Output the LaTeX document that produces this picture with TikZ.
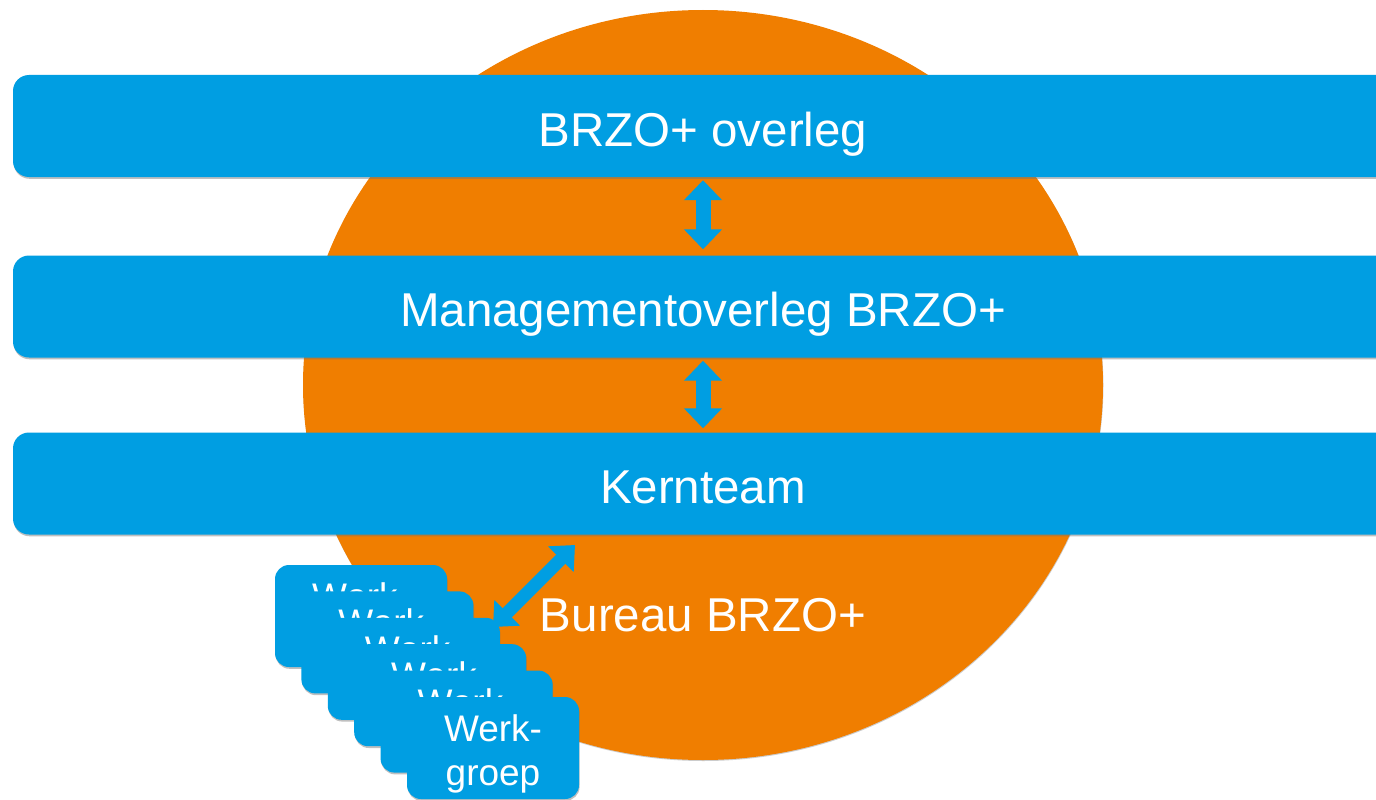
\documentclass[tikz,border=0pt]{standalone}
\usepackage{fontspec}
\setmainfont{Liberation Sans}
\usetikzlibrary{arrows.meta,shadows,shapes.geometric}
\definecolor{barblue}{RGB}{0,158,226}
\definecolor{circorange}{RGB}{240,126,0}
\begin{document}
\begin{tikzpicture}[x=1pt,y=-1pt,
  softshadow/.style={drop shadow={shadow xshift=0.6pt, shadow yshift=-1.8pt, opacity=0.45, fill=black!55}},
  bar/.style={fill=barblue, rounded corners=16pt, minimum width=1380pt, minimum height=102pt,
    inner sep=0pt, text=white, font=\fontsize{47.5}{57}\selectfont,
    text height=40pt, text depth=0pt, softshadow},
  werk/.style={fill=barblue, rounded corners=14pt, minimum width=172pt, minimum height=102pt,
    inner sep=0pt, softshadow},
  werktext/.style={inner sep=0pt, text=white, align=center, font=\fontsize{37}{44}\selectfont},
  dblv/.style={draw=barblue, line width=15pt,
    {Triangle[width=37pt,length=20pt]}-{Triangle[width=37pt,length=20pt]}},
  dbld/.style={draw=barblue, line width=13pt,
    {Triangle[width=35pt,length=20pt]}-{Triangle[width=35pt,length=20pt]}},
  plain/.style={text=white, font=\fontsize{47.5}{57}\selectfont, inner sep=0pt}
]
\useasboundingbox (0,0) rectangle (1376,800);
\clip (0,0) rectangle (1376,800);
\fill[white] (0,0) rectangle (1376,800);

% orange ellipse
\node[ellipse, fill=circorange, minimum width=800pt, minimum height=750pt, inner sep=0pt,
  drop shadow={shadow xshift=0.4pt, shadow yshift=-1pt, opacity=0.4, fill=black!50}] (circ) at (703,385) {};

% bars
\node[bar] (b1) at (703,126) {BRZO+ overleg};
\node[bar] (b2) at (703,306.5) {Managementoverleg BRZO+};
\node[bar] (b3) at (703,483.5) {Kernteam};

% vertical arrows
\draw[dblv, shorten <=3pt, shorten >=6pt] (b1.south) -- (b2.north);
\draw[dblv, shorten <=3pt, shorten >=4pt] (b2.south) -- (b3.north);

% Bureau label
\node[plain, anchor=base] (bureau) at (703,631) {Bureau BRZO+};

% werkgroep stack
\foreach \i in {0,...,5}{
  \node[werk] (w\i) at ({361+26.4*\i},{616+26.4*\i}) {};
  \node[werktext] (t\i) at ([yshift=-6pt]w\i.center) {Werk-\\groep};
}

% diagonal arrow
\coordinate (dA) at (575,545);
\coordinate (dB) at (493,627);
\draw[dbld] (dA) -- (dB);
\end{tikzpicture}
\end{document}
